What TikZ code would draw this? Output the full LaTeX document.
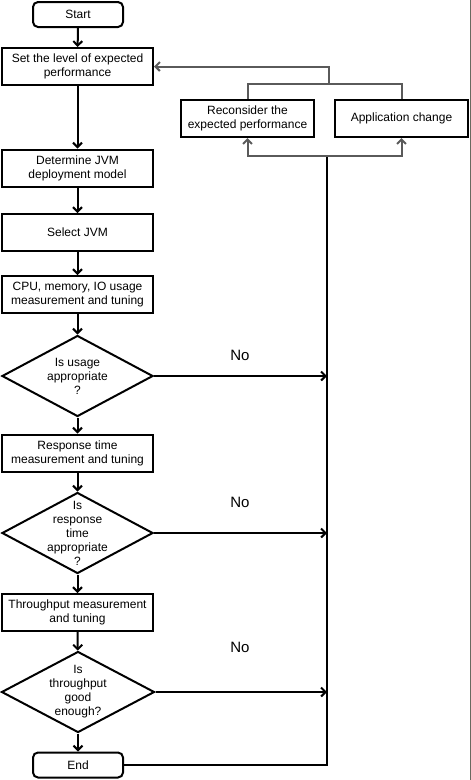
\documentclass[tikz,border=0pt]{standalone}
\usepackage{fontspec}
\setmainfont{Liberation Sans}
\usetikzlibrary{shapes.geometric,arrows.meta}
\begin{document}
\begin{tikzpicture}[x=1pt,y=-1pt,
  txt/.style={font=\fontsize{12}{14}\selectfont,align=center},
  box/.style={draw,line width=2pt,minimum width=151pt,minimum height=37pt,inner sep=0pt,txt},
  rbox/.style={draw,line width=2pt,minimum width=133pt,minimum height=37pt,inner sep=0pt,txt},
  term/.style={draw,line width=2pt,rounded corners=5pt,minimum width=90pt,minimum height=25pt,inner sep=0pt,txt},
  dia/.style={draw,line width=2pt,diamond,minimum width=151pt,minimum height=81pt,inner sep=0pt},
  blk/.style={line width=2pt,black},
  gry/.style={line width=2pt,color={rgb,255:red,90;green,90;blue,90}},
  tip/.style={-{Straight Barb[length=4.5pt,width=9pt]}},
  nolab/.style={font=\fontsize{15}{17}\selectfont}]
\useasboundingbox (0,0) rectangle (471,780);
\draw[line width=1pt,color={rgb,255:red,105;green,105;blue,95}] (470.5,0) -- (470.5,780);

\node[term] (start) at (78,14.5) {Start};
\node[box] (set) at (77.5,66.5) {Set the level of expected\\performance};
\node[box] (det) at (77.5,168) {Determine JVM\\deployment model};
\node[box] (sel) at (77.5,232.5) {Select JVM};
\node[box] (cpu) at (77.5,294.5) {CPU, memory, IO usage\\measurement and tuning};
\node[dia] (d1) at (77.5,376) {};
\node[txt] (d1t) at (d1) {Is usage\\appropriate\\?};
\node[box] (resp) at (77.5,453) {Response time\\measurement and tuning};
\node[dia] (d2) at (77.5,533) {};
\node[txt] (d2t) at (d2) {Is\\response\\time\\appropriate\\?};
\node[box] (thr) at (77.5,612.5) {Throughput measurement\\and tuning};
\node[dia,minimum width=153pt] (d3) at (78,692) {};
\node[txt] (d3t) at (d3) {Is\\throughput\\good\\enough?};
\node[term] (end) at (78,765) {End};

\node[rbox] (rec) at (247.5,118.5) {Reconsider the\\expected performance};
\node[rbox] (app) at (401.5,118.5) {Application change};

\node[nolab] (no1) at (240,355) {No};
\node[nolab] (no2) at (240,502) {No};
\node[nolab] (no3) at (240,647) {No};

\draw[blk,tip] (start) -- (set);
\draw[blk,tip] (set) -- (det);
\draw[blk,tip] (det) -- (sel);
\draw[blk,tip] (sel) -- (cpu);
\draw[blk,tip] (cpu) -- (d1);
\draw[blk,tip] (d1) -- (resp);
\draw[blk,tip] (resp) -- (d2);
\draw[blk,tip] (d2) -- (thr);
\draw[blk,tip] (thr) -- (d3);
\draw[blk,tip] (d3) -- (end);

\coordinate (bus) at (327,156);
\coordinate (top) at (329,84);
\draw[blk] (end.east) -| (bus);
\draw[blk,tip] (d1.east) -- (d1.east -| bus);
\draw[blk,tip] (d2.east) -- (d2.east -| bus);
\draw[blk,tip] (d3.east) -- (d3.east -| bus);
\draw[gry,tip] (bus) -| (rec.south);
\draw[gry,tip] (bus) -| (app.south);
\draw[gry] (rec.north) |- (top) -| (app.north);
\draw[gry,tip] (top) |- (set.east);
\end{tikzpicture}
\end{document}
